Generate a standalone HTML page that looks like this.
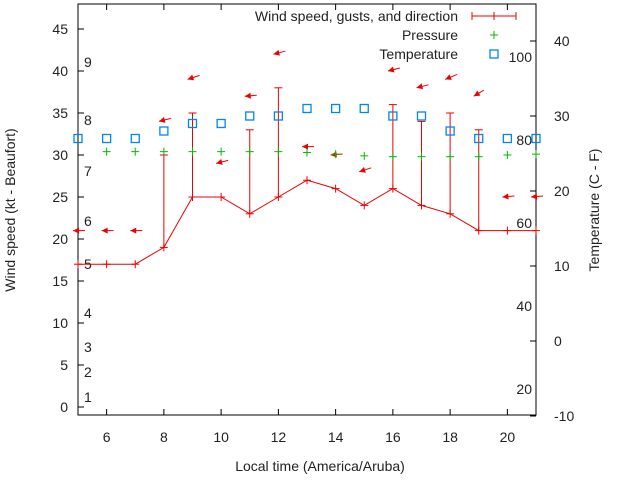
<!DOCTYPE html>
<html><head><meta charset="utf-8"><style>
body{margin:0;background:#fff;}
svg text{font-family:"Liberation Sans",sans-serif;font-size:14px;fill:#222;}
</style></head><body>
<svg id="c" width="640" height="480" xmlns="http://www.w3.org/2000/svg"></svg>
<script>
const hours=[5,6,7,8,9,10,11,12,13,14,15,16,17,18,19,20,21];
const speed=[17,17,17,19,25,25,23,25,27,26,24,26,24,23,21,21,21];
const gust=[17,17,17,30,35,25,33,38,27,26,24,36,34,35,33,21,21];
const pressHours=[6,7,8,9,10,11,12,13,14,15,16,17,18,19,20,21];
const pressure=[30.4,30.4,30.4,30.4,30.4,30.4,30.4,30.3,30.1,29.9,29.8,29.8,29.8,29.8,30.0,30.1];
const temp=[27,27,27,28,29,29,30,30,31,31,31,30,30,28,27,27,27];
const arrowY=[21,21,21,34,39,29,37,42,31,30,28,40,38,39,37,25,25];
const arrowDx=[12,12,12,12,12,12,12,12,12,12,12,12,12,12,10,12,12];
const arrowDy=[0,0,0,-3,-4,-3,-1,-3,0,-1,-4,-3,-3,-5,-6,-1,-1];
const xTicks=[6,8,10,12,14,16,18,20];
const yTicks=[0,5,10,15,20,25,30,35,40,45];
const y2Ticks=[-10,0,10,20,30,40];
const beaufort=[[1,397],[2,372],[3,347],[4,313],[5,264],[6,221],[7,171],[8,120],[9,62]];
const fahr=[[20,389],[40,306],[60,223],[80,140],[100,57]];
const L=78,R=536,T=4,B=415;
const X=h=>L+(h-5)*(R-L)/16;
const Y=v=>407-v*8.4;
const Y2=v=>341-v*7.5;
const svg=document.getElementById('c');
const NS='http://www.w3.org/2000/svg';
function mk(tag,attrs,parent){const e=document.createElementNS(NS,tag);for(const k in attrs)e.setAttribute(k,attrs[k]);(parent||svg).appendChild(e);return e;}
function txt(x,y,s,anchor,parent){const t=mk('text',{x:x,y:y,'text-anchor':anchor||'middle'},parent);t.textContent=s;return t;}
const frame=mk('rect',{x:L,y:T,width:R-L,height:B-T,fill:'none',stroke:'#000','stroke-width':1});


const gx=mk('g',{});


xTicks.forEach(t=>{const x=X(t);mk('line',{x1:x,x2:x,y1:B,y2:B-6,stroke:'#000'},gx);mk('line',{x1:x,x2:x,y1:T,y2:T+6,stroke:'#000'},gx);txt(x,442,String(t),'middle',gx);});
const gy=mk('g',{});


yTicks.forEach(t=>{const y=Y(t);mk('line',{x1:L,x2:L+6,y1:y,y2:y,stroke:'#000'},gy);txt(L-10,y+5,String(t),'end',gy);});
const gy2=mk('g',{});


y2Ticks.forEach(t=>{const y=Y2(t);mk('line',{x1:R,x2:R-6,y1:y,y2:y,stroke:'#000'},gy2);txt(R+18,y+5,String(t),'start',gy2);});
const gb=mk('g',{});


beaufort.forEach(b=>txt(84,b[1]+5,String(b[0]),'start',gb));
const gf=mk('g',{});


fahr.forEach(f=>txt(532,f[1]+5,String(f[0]),'end',gf));
const gw=mk('g',{});


mk('polyline',{points:hours.map((h,i)=>X(h)+','+Y(speed[i])).join(' '),fill:'none',stroke:'#e00','stroke-width':1},gw);
hours.forEach((h,i)=>{const x=X(h),y=Y(speed[i]),g=Y(gust[i]);
 mk('line',{x1:x-4,x2:x+4,y1:y,y2:y,stroke:'#e00'},gw);mk('line',{x1:x,x2:x,y1:y-4,y2:y+4,stroke:'#e00'},gw);
 if(gust[i]>speed[i]){mk('line',{x1:x,x2:x,y1:y,y2:g,stroke:'#e00'},gw);mk('line',{x1:x-4,x2:x+4,y1:g,y2:g,stroke:'#e00'},gw);}
});
const ga=mk('g',{});


hours.forEach((h,i)=>{const x=X(h)-5,y=Y(arrowY[i]);const dx=arrowDx[i],dy=arrowDy[i];
 mk('line',{x1:x,y1:y,x2:x+dx,y2:y+dy,stroke:'#e00','stroke-width':1},ga);
 const len=Math.hypot(dx,dy),ux=dx/len,uy=dy/len;
 const p=[[x,y],[x+ux*6-uy*3,y+uy*6+ux*3],[x+ux*6+uy*3,y+uy*6-ux*3]];
 mk('polygon',{points:p.map(q=>q.join(',')).join(' '),fill:'#e00'},ga);
});
const gp=mk('g',{});


pressHours.forEach((h,i)=>{const x=X(h),y=Y(pressure[i]);mk('line',{x1:x-4,x2:x+4,y1:y,y2:y,stroke:'#0b0'},gp);mk('line',{x1:x,x2:x,y1:y-4,y2:y+4,stroke:'#0b0'},gp);});
const gt=mk('g',{});


hours.forEach((h,i)=>{mk('rect',{x:X(h)-4,y:Y2(temp[i])-4,width:8,height:8,fill:'none',stroke:'#08e','stroke-width':1.3},gt);});
const gl=mk('g',{});


txt(458,21,'Wind speed, gusts, and direction','end',gl);
mk('line',{x1:472,x2:516,y1:16,y2:16,stroke:'#e00'},gl);
[472,494,516].forEach(x=>mk('line',{x1:x,x2:x,y1:12,y2:20,stroke:'#e00'},gl));
txt(458,40,'Pressure','end',gl);
mk('line',{x1:490,x2:498,y1:35,y2:35,stroke:'#0b0'},gl);mk('line',{x1:494,x2:494,y1:31,y2:39,stroke:'#0b0'},gl);
txt(458,59,'Temperature','end',gl);
mk('rect',{x:490,y:50,width:8,height:8,fill:'none',stroke:'#08e','stroke-width':1.3},gl);
const xt=txt(320,471,'Local time (America/Aruba)');


const yt=txt(0,0,'Wind speed (kt - Beaufort)');yt.setAttribute('transform','translate(15,210) rotate(-90)');


const y2t=txt(0,0,'Temperature (C - F)');y2t.setAttribute('transform','translate(599,210) rotate(-90)');


</script>
</body></html>
